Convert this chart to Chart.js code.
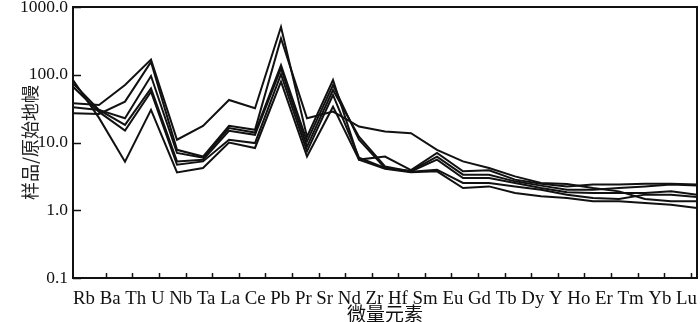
<!DOCTYPE html>
<html>
<head>
<meta charset="utf-8">
<title>微量元素蛛网图</title>
<script src="https://cdn.jsdelivr.net/npm/chart.js@4/dist/chart.umd.min.js"></script>
<style>
    html, body { margin: 0; padding: 0; background: #ffffff; }
    #spider { display: block; }
</style>
</head>
<body>
<canvas id="spider" width="700" height="322"></canvas>
<script>
// trace elements, primitive-mantle normalised
const elements = ['Rb', 'Ba', 'Th', 'U', 'Nb', 'Ta', 'La', 'Ce', 'Pb', 'Pr', 'Sr', 'Nd', 'Zr', 'Hf',
    'Sm', 'Eu', 'Gd', 'Tb', 'Dy', 'Y', 'Ho', 'Er', 'Tm', 'Yb', 'Lu'];

const sample1 = [37.9, 35.8, 70.6, 168, 11.0, 17.6, 42.5, 32.1, 508, 12.2, 83.6, 5.6, 6.2, 3.9,
    7.0, 3.75, 3.88, 2.83, 2.47, 2.25, 2.39, 2.39, 2.47, 2.47, 2.39];
const sample2 = [27.0, 26.4, 40.1, 155, 7.8, 6.2, 17.6, 15.4, 343, 22.8, 28.6, 17.2, 14.5, 13.7,
    7.8, 5.26, 4.2, 3.16, 2.53, 2.44, 2.13, 1.90, 1.47, 1.36, 1.36];
const sample3 = [33.2, 30.3, 22.8, 95.7, 7.0, 5.96, 16.3, 14.0, 139, 10.4, 70.6, 11.0, 4.2, 3.8,
    6.2, 3.35, 3.35, 2.67, 2.31, 2.01, 2.01, 2.13, 2.25, 2.39, 2.31];
const sample4 = [74.8, 30.3, 18.2, 63.1, 5.26, 5.57, 14.9, 13.0, 124, 8.7, 59.6, 12.2, 4.44, 3.75,
    5.6, 2.99, 2.99, 2.53, 2.13, 1.84, 1.80, 1.80, 1.80, 1.90, 1.70];
const sample5 = [66.7, 28.3, 15.0, 56.2, 4.7, 5.26, 11.0, 9.8, 102, 7.4, 50.3, 5.96, 4.2, 3.7,
    3.97, 2.53, 2.53, 2.25, 2.01, 1.70, 1.52, 1.47, 1.70, 1.70, 1.57];
const sample6 = [83.6, 23.1, 5.2, 30.3, 3.62, 4.2, 10.0, 8.3, 78.9, 6.2, 33.8, 5.57, 4.1, 3.65,
    3.75, 2.13, 2.25, 1.80, 1.61, 1.52, 1.36, 1.36, 1.28, 1.21, 1.08];

const yTicks = [0.1, 1, 10, 100, 1000];
const yTitle = '样品/原始地幔';
const xTitle = '微量元素';

const serif = "'Liberation Serif', 'Times New Roman', serif";
const cjk = "'Liberation Serif', 'Noto Sans CJK SC', serif";

document.addEventListener('DOMContentLoaded', () => {
    drawSpider();
});

// frame box + inward tick marks, like the original plot
const frameTicks = {
    id: 'frameTicks',
    afterDraw(chart) {
        const { ctx, chartArea, scales } = chart;
        ctx.save();
        ctx.strokeStyle = '#111';
        ctx.lineWidth = 2;
        ctx.strokeRect(chartArea.left, chartArea.top, chartArea.right - chartArea.left, chartArea.bottom - chartArea.top);

        ctx.lineWidth = 1.5;
        ctx.beginPath();
        yTicks.forEach(v => {
            const y = Math.round(scales.y.getPixelForValue(v)) + 0.5;
            ctx.moveTo(chartArea.left, y);
            ctx.lineTo(chartArea.left + 8, y);
        });
        // x tick marks sit on their own slots, not on the data columns
        for (let k = 1; k <= 23; k++) {
            const x = Math.round(scales.xt.getPixelForValue(k)) + 0.5;
            ctx.moveTo(x, chartArea.bottom);
            ctx.lineTo(x, chartArea.bottom - 5);
        }
        ctx.stroke();
        ctx.restore();
    }
};

function drawSpider() {
    const ctx = document.getElementById('spider').getContext('2d');
    const series = [sample1, sample2, sample3, sample4, sample5, sample6];

    new Chart(ctx, {
        type: 'line',
        data: {
            labels: elements,
            datasets: series.map((values, i) => ({
                label: 'S' + (i + 1),
                data: values,
                borderColor: '#111',
                borderWidth: 2,
                pointRadius: 0,
                tension: 0,
                fill: false
            }))
        },
        options: {
            responsive: false,
            animation: false,
            layout: {
                padding: { top: 0, right: 3, bottom: 0, left: 0 }
            },
            plugins: {
                legend: { display: false },
                tooltip: { enabled: false }
            },
            scales: {
                x: {
                    type: 'category',
                    offset: false,
                    grid: { display: false, drawTicks: false },
                    border: { display: false },
                    ticks: { display: false },
                    title: {
                        display: true,
                        text: [elements.join(' '), xTitle],
                        color: '#111',
                        font: { family: cjk, size: 19, lineHeight: 0.9 },
                        padding: { top: 0, bottom: -3 }
                    },
                    afterFit(scale) {
                        scale.height = 44;
                        scale.paddingLeft = 0;
                        scale.paddingRight = 0;
                    }
                },
                xt: {
                    type: 'linear',
                    display: false,
                    min: -0.23,
                    max: 23.23
                },
                y: {
                    type: 'logarithmic',
                    min: 0.1,
                    max: 1000,
                    grid: { display: false, drawTicks: false },
                    border: { display: false },
                    afterBuildTicks(scale) {
                        scale.ticks = yTicks.map(v => ({ value: v }));
                    },
                    ticks: {
                        color: '#111',
                        padding: 5,
                        font: { family: serif, size: 17.5, lineHeight: 0.8 },
                        callback: v => Number(v).toFixed(1)
                    },
                    title: {
                        display: true,
                        text: yTitle,
                        color: '#222',
                        font: { family: "'Noto Sans CJK SC', sans-serif", size: 18, lineHeight: 1.2 },
                        padding: { top: 19, bottom: 0 }
                    },
                    afterFit(scale) {
                        scale.width = 73;
                        scale.paddingTop = 7;
                        scale.paddingBottom = 0;
                    }
                }
            }
        },
        plugins: [frameTicks]
    });
}
</script>
</body>
</html>
